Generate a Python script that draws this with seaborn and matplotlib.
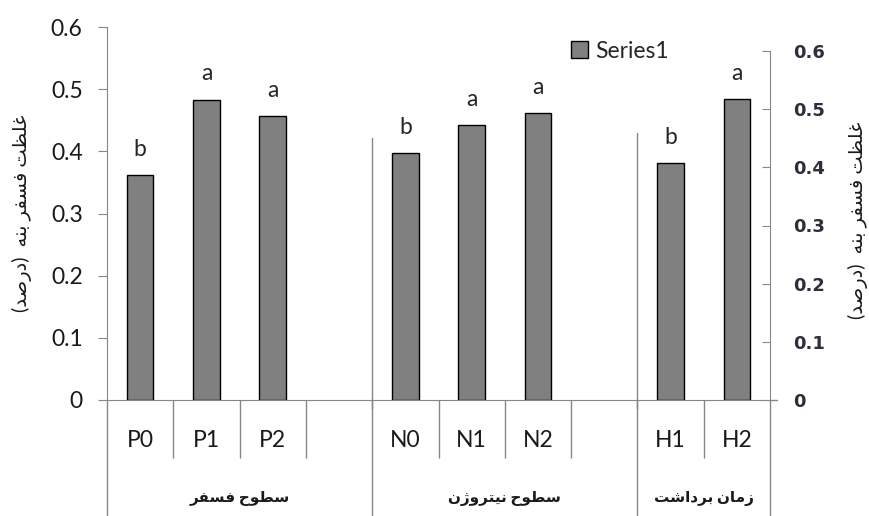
import matplotlib
matplotlib.use("Agg")
from matplotlib import pyplot as plt
from matplotlib.patches import Patch
import pandas as pd
import seaborn as sns

# data
slots = ["P0", "P1", "P2", "gap1", "N0", "N1", "N2", "gap2", "H1", "H2"]
left_cats = ["P0", "P1", "P2", "N0", "N1", "N2"]
left_values = [0.362, 0.483, 0.457, 0.397, 0.442, 0.461]
left_letters = ["b", "a", "a", "b", "a", "a"]
right_cats = ["H1", "H2"]
right_values = [0.407, 0.517]
right_letters = ["b", "a"]
group_names = ["سطوح فسفر", "سطوح نیتروژن", "زمان برداشت"]
group_members = [["P0", "P1", "P2", "gap1"], ["N0", "N1", "N2", "gap2"], ["H1", "H2"]]
ylabel = "غلظت فسفر بنه  (درصد)"
yticks = [0, 0.1, 0.2, 0.3, 0.4, 0.5, 0.6]


# matplotlib has no arabic shaping, so pick presentation forms by hand
FORMS = {
    "ا": ("\uFE8D", "\uFE8E", None, None),
    "ب": ("\uFE8F", "\uFE90", "\uFE91", "\uFE92"),
    "ت": ("\uFE95", "\uFE96", "\uFE97", "\uFE98"),
    "ح": ("\uFEA1", "\uFEA2", "\uFEA3", "\uFEA4"),
    "د": ("\uFEA9", "\uFEAA", None, None),
    "ر": ("\uFEAD", "\uFEAE", None, None),
    "ز": ("\uFEAF", "\uFEB0", None, None),
    "ژ": ("\uFB8A", "\uFB8B", None, None),
    "س": ("\uFEB1", "\uFEB2", "\uFEB3", "\uFEB4"),
    "ش": ("\uFEB5", "\uFEB6", "\uFEB7", "\uFEB8"),
    "ص": ("\uFEB9", "\uFEBA", "\uFEBB", "\uFEBC"),
    "ط": ("\uFEC1", "\uFEC2", "\uFEC3", "\uFEC4"),
    "ظ": ("\uFEC5", "\uFEC6", "\uFEC7", "\uFEC8"),
    "غ": ("\uFECD", "\uFECE", "\uFECF", "\uFED0"),
    "ف": ("\uFED1", "\uFED2", "\uFED3", "\uFED4"),
    "ل": ("\uFEDD", "\uFEDE", "\uFEDF", "\uFEE0"),
    "م": ("\uFEE1", "\uFEE2", "\uFEE3", "\uFEE4"),
    "ن": ("\uFEE5", "\uFEE6", "\uFEE7", "\uFEE8"),
    "ه": ("\uFEE9", "\uFEEA", "\uFEEB", "\uFEEC"),
    "و": ("\uFEED", "\uFEEE", None, None),
    "ی": ("\uFBFC", "\uFBFD", "\uFBFE", "\uFBFF"),
}


def shape(text):
    out = []
    for i, ch in enumerate(text):
        if ch not in FORMS:
            out.append(ch)
            continue
        prev = text[i - 1] if i > 0 else ""
        nxt = text[i + 1] if i + 1 < len(text) else ""
        join_prev = prev in FORMS and FORMS[prev][2] is not None
        join_next = FORMS[ch][2] is not None and nxt in FORMS
        isol, fin, ini, med = FORMS[ch]
        if join_prev and join_next:
            out.append(med)
        elif join_prev:
            out.append(fin)
        elif join_next:
            out.append(ini)
        else:
            out.append(isol)
    vis = "".join(out)[::-1]
    return vis.translate(str.maketrans("()", ")("))


sns.set_style("white")
plt.rcParams["font.family"] = ["Lato", "DejaVu Sans"]

gray = "#868686"
bar_color = "#808080"

fig = plt.figure(figsize=(8.69, 5.16), dpi=100)
ax = fig.add_axes([107 / 869, 116 / 516, 663 / 869, 373 / 516])

left_df = pd.DataFrame({"cat": left_cats, "val": left_values})
right_df = pd.DataFrame({"cat": right_cats, "val": right_values})

sns.barplot(data=left_df, x="cat", y="val", order=slots, color=bar_color,
            saturation=1, edgecolor="black", linewidth=1, width=0.4, ax=ax)
ax.set_ylim(0, 0.6)
ax.set_xlim(-0.5, len(slots) - 0.5)

ax2 = ax.twinx()
sns.barplot(data=right_df, x="cat", y="val", order=slots, color=bar_color,
            saturation=1, edgecolor="black", linewidth=1, width=0.4, ax=ax2)
ax2.set_ylim(0, 0.6 * 373 / 349)
ax2.set_xlim(-0.5, len(slots) - 0.5)

ax.bar_label(ax.containers[0], labels=left_letters, padding=11, fontsize=16.5)
ax2.bar_label(ax2.containers[0], labels=right_letters, padding=11, fontsize=16.5)

for a in (ax, ax2):
    a.set_xlabel("")
    a.set_ylabel("")
    for s in a.spines.values():
        s.set_visible(False)

ax.spines["left"].set_visible(True)
ax.spines["left"].set_color(gray)
ax.spines["bottom"].set_visible(True)
ax.spines["bottom"].set_color(gray)
ax2.spines["right"].set_visible(True)
ax2.spines["right"].set_color(gray)
ax2.spines["right"].set_bounds(0, 0.6)

ax.set_yticks(yticks)
ax.set_yticklabels([f"{t:g}" for t in yticks])
ax.tick_params(axis="y", direction="out", length=6.5, color=gray, pad=11,
               labelsize=16.5, labelcolor="#1a1a1a", left=True)
ax2.set_yticks(yticks)
ax2.set_yticklabels([f"{t:g}" for t in yticks])
ax2.tick_params(axis="y", direction="in", length=6, color=gray, pad=17,
                labelsize=13, labelcolor="#2e2e3c", right=True)
for lab in ax2.get_yticklabels():
    lab.set_fontweight("bold")
    lab.set_family("DejaVu Sans")

# x axis: hide default ticks, draw category cells
ax.tick_params(axis="x", which="major", length=0, labelbottom=False)
ax2.tick_params(axis="x", which="major", length=0, labelbottom=False)
inner = [i + 0.5 for i in range(len(slots) - 1) if slots[i] not in ("gap1", "gap2") and (i + 1 < len(slots) and slots[i + 1] not in ("N0", "H1"))]
ax.set_xticks(inner, minor=True)
ax.tick_params(axis="x", which="minor", direction="out", length=42, width=1,
               color=gray, bottom=True)

for i, c in enumerate(slots):
    if c.startswith("gap"):
        continue
    ax.annotate(c, xy=(i, 0), xycoords=("data", "axes fraction"),
                xytext=(0, -29), textcoords="offset points",
                ha="center", va="center", fontsize=16.5, color="#1a1a1a")

trans = ax.get_xaxis_transform()
bounds = []
for members in group_members:
    lo = slots.index(members[0]) - 0.5
    hi = slots.index(members[-1]) + 0.5
    bounds += [lo, hi]
for b in sorted(set(bounds)):
    ax.plot([b, b], [0, -116 / 373], transform=trans, color=gray, lw=1,
            clip_on=False)

# sub-chart axes that rise above the baseline
for name, top in (("N0", 0.421), ("H1", 0.43)):
    b = slots.index(name) - 0.5
    ax.plot([b, b], [-0.015, top], color=gray, lw=1, clip_on=False)
ax.plot([len(slots) - 0.5, len(slots) - 0.4], [0, 0], color=gray, lw=1,
        clip_on=False)

for name, members in zip(group_names, group_members):
    mid = (slots.index(members[0]) + slots.index(members[-1])) / 2
    ax.annotate(shape(name), xy=(mid, 0.033), xycoords=("data", "figure fraction"),
                ha="center", va="center", fontsize=11, fontweight="bold",
                color="#1a1a1a")

fig.text(0.025, 0.587, shape(ylabel), rotation=90, ha="center", va="center",
         fontsize=14, color="#1a1a1a")
fig.text(858 / 869, 0.574, shape(ylabel), rotation=90, ha="center",
         va="center", fontsize=14, color="#1a1a1a")

ax2.legend(handles=[Patch(facecolor=bar_color, edgecolor="black", label="Series1")],
           loc="center left", bbox_to_anchor=(571 / 869, 1 - 51 / 516),
           bbox_transform=fig.transFigure, frameon=False, fontsize=16.5,
           handlelength=0.75, handleheight=0.75, handletextpad=0.3,
           borderpad=0, borderaxespad=0)

fig.savefig("out.png", dpi=100)
